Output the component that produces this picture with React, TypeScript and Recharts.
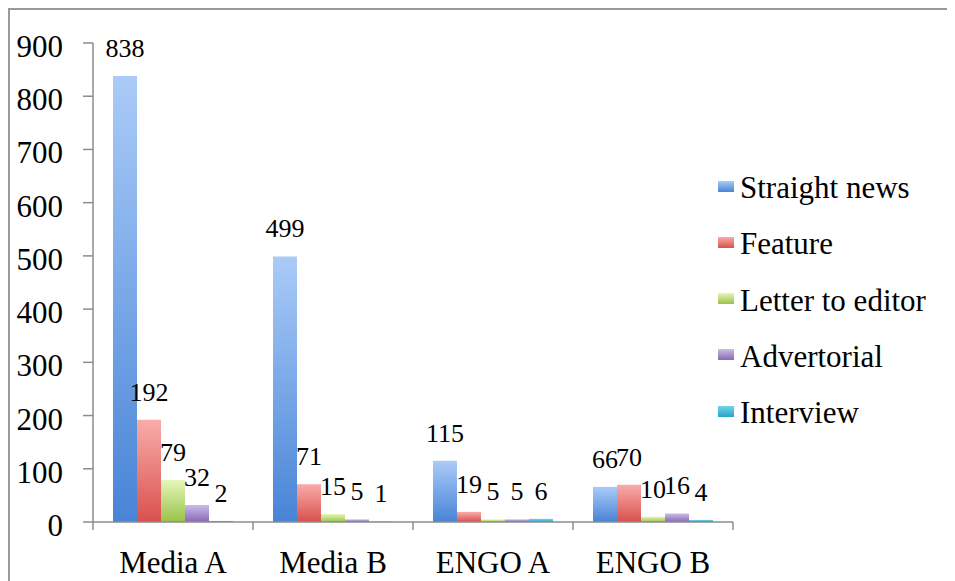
import React from 'react';
import { BarChart, Bar, XAxis, YAxis, LabelList } from 'recharts';

const categories = ['Media A', 'Media B', 'ENGO A', 'ENGO B'];
const seriesNames = ['Straight news', 'Feature', 'Letter to editor', 'Advertorial', 'Interview'];
const straightNews = [838, 499, 115, 66];
const feature = [192, 71, 19, 70];
const letterToEditor = [79, 15, 5, 10];
const advertorial = [32, 5, 5, 16];
const interview = [2, 1, 6, 4];
const yTicks = [0, 100, 200, 300, 400, 500, 600, 700, 800, 900];

const seriesKeys = ['straight', 'feature', 'letter', 'advertorial', 'interview'];
const seriesValues = [straightNews, feature, letterToEditor, advertorial, interview];
const gradTop = ['#AACBF8', '#F9ACAA', '#E6F7B8', '#CBBBE7', '#74D3EC'];
const gradBottom = ['#4884D6', '#D8514C', '#98C24A', '#8769B6', '#27A3C9'];

const data = categories.map((c, i) => {
  const row: any = { category: c };
  seriesKeys.forEach((k, s) => {
    row[k] = seriesValues[s][i];
  });
  return row;
});

const FONT = 'Liberation Serif, Times New Roman, serif';
const CHART_W = 945;
const CHART_H = 571;
const MARGIN = { top: 33, right: 222, bottom: 9, left: 0 };
const Y_W = 83;
const BAND = (CHART_W - MARGIN.left - MARGIN.right - Y_W) / categories.length;
const AXIS_COLOR = '#8c8c8c';

function CatTick(props: any) {
  const { x, y, payload, index } = props;
  const last = index === categories.length - 1;
  return (
    <g>
      <line x1={x - BAND / 2} y1={y} x2={x - BAND / 2} y2={y + 8} stroke={AXIS_COLOR} strokeWidth={1.5} />
      {last && (
        <line x1={x + BAND / 2} y1={y} x2={x + BAND / 2} y2={y + 8} stroke={AXIS_COLOR} strokeWidth={1.5} />
      )}
      <text x={x} y={y + 51} textAnchor="middle" fontFamily={FONT} style={{ fontFamily: FONT }} fontSize={31} fill="#000">
        {payload.value}
      </text>
    </g>
  );
}

function ValTick(props: any) {
  const { x, y, payload } = props;
  return (
    <text x={x} y={y + 14} textAnchor="end" fontFamily={FONT} style={{ fontFamily: FONT }} fontSize={31} fill="#000">
      {payload.value}
    </text>
  );
}

function ValueLabel(props: any) {
  const { x, y, width, value } = props;
  return (
    <text
      x={x + width / 2}
      y={y - 19}
      textAnchor="middle"
      fontFamily={FONT}
      style={{ fontFamily: FONT }}
      fontSize={26}
      fill="#000"
    >
      {value}
    </text>
  );
}

function LegendBox() {
  return (
    <div
      style={{
        position: 'absolute',
        left: 708,
        top: 150,
        fontFamily: FONT,
        fontSize: 31,
        color: '#000',
      }}
    >
      {seriesNames.map((name, i) => (
        <div key={name} style={{ height: 56.25, display: 'flex', alignItems: 'center', whiteSpace: 'nowrap' }}>
          <span
            style={{
              display: 'inline-block',
              width: 16,
              height: 11,
              marginRight: 6,
              marginTop: -4,
              background: `linear-gradient(${gradTop[i]}, ${gradBottom[i]})`,
            }}
          />
          <span>{name}</span>
        </div>
      ))}
    </div>
  );
}

export default function App() {
  return (
    <div
      style={{
        position: 'relative',
        width: CHART_W,
        height: CHART_H,
        borderTop: '2px solid #9a9a9a',
        borderLeft: '2px solid #9a9a9a',
        background: '#fff',
      }}
    >
      <BarChart
        width={CHART_W}
        height={CHART_H}
        data={data}
        margin={MARGIN}
        barCategoryGap="12.5%"
        barGap={0}
      >
        <defs>
          {seriesKeys.map((k, i) => (
            <linearGradient key={k} id={`grad-${k}`} x1="0" y1="0" x2="0" y2="1">
              <stop offset="0%" stopColor={gradTop[i]} />
              <stop offset="100%" stopColor={gradBottom[i]} />
            </linearGradient>
          ))}
        </defs>
        <XAxis
          dataKey="category"
          tick={<CatTick />}
          tickLine={false}
          tickSize={0}
          tickMargin={0}
          height={50}
          axisLine={{ stroke: AXIS_COLOR, strokeWidth: 1.5 }}
          interval={0}
        />
        <YAxis
          width={Y_W}
          domain={[0, 900]}
          ticks={yTicks}
          interval={0}
          tickSize={10}
          tickMargin={20}
          tickLine={{ stroke: AXIS_COLOR, strokeWidth: 1.5 }}
          axisLine={{ stroke: AXIS_COLOR, strokeWidth: 1.5 }}
          tick={<ValTick />}
        />
        {seriesKeys.map((k, i) => (
          <Bar key={k} dataKey={k} name={seriesNames[i]} fill={`url(#grad-${k})`} isAnimationActive={false}>
            <LabelList dataKey={k} content={<ValueLabel />} />
          </Bar>
        ))}
      </BarChart>
      <LegendBox />
    </div>
  );
}
